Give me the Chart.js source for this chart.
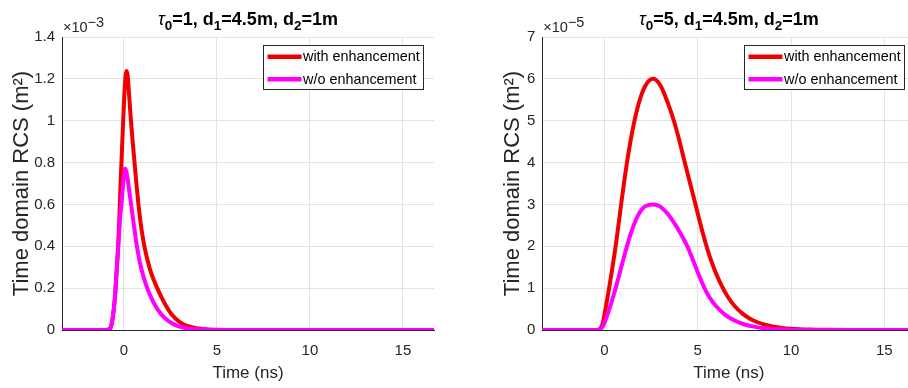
<!DOCTYPE html>
<html>
<head>
<meta charset="utf-8">
<script src="https://cdn.jsdelivr.net/npm/chart.js@4"></script>
<style>
html, body { margin: 0; padding: 0; background: #fff; overflow: hidden; }
#wrap { position: relative; width: 908px; height: 388px; overflow: hidden; }
canvas { position: absolute; top: 0; }
#c1 { left: 0; }
#c2 { left: 454px; }
</style>
</head>
<body>
<div id="wrap">
  <canvas id="c1" width="454" height="388"></canvas>
  <canvas id="c2" width="480" height="388"></canvas>
</div>
<script>
// time axis (ns), shared by both panels
const xMin = -3.33, xMax = 16.67;
const xTicks = [0, 5, 10, 15];
const seriesNames = ["with enhancement", "w/o enhancement"];

// panel 1: tau0 = 1, values in units of 1e-3 m^2
const t1With = [-3.33, -1.0, -0.8, -0.7, -0.6, -0.5, -0.4, -0.3, -0.22, -0.13, -0.04, 0.05, 0.14, 0.2, 0.28, 0.36, 0.46, 0.57, 0.68, 0.78, 0.9, 1.0, 1.11, 1.25, 1.4, 1.6, 1.79, 2.0, 2.2, 2.56, 3.0, 3.43, 4.0, 4.5, 5.0, 6.0, 16.67];
const v1With = [0, 0, 0.003, 0.015, 0.06, 0.14, 0.27, 0.42, 0.6, 0.81, 1.0, 1.17, 1.237, 1.215, 1.12, 1.02, 0.91, 0.8, 0.69, 0.6, 0.51, 0.45, 0.395, 0.34, 0.29, 0.24, 0.2, 0.16, 0.125, 0.075, 0.038, 0.018, 0.007, 0.003, 0.001, 0, 0];
const t1Without = [-3.33, -0.9, -0.8, -0.7, -0.6, -0.5, -0.4, -0.3, -0.2, -0.12, -0.03, 0.06, 0.12, 0.2, 0.3, 0.4, 0.52, 0.68, 0.85, 1.05, 1.25, 1.6, 2.0, 2.4, 2.9, 3.5, 4.5, 5.5, 16.67];
const v1Without = [0, 0, 0.003, 0.015, 0.06, 0.14, 0.27, 0.41, 0.54, 0.62, 0.71, 0.77, 0.76, 0.72, 0.655, 0.59, 0.51, 0.41, 0.325, 0.255, 0.2, 0.13, 0.075, 0.042, 0.018, 0.007, 0.001, 0, 0];
const yTicks1 = [0, 0.2, 0.4, 0.6, 0.8, 1, 1.2, 1.4];

// panel 2: tau0 = 5, values in units of 1e-5 m^2
const t2With = [-3.33, -0.45, -0.3, -0.2, -0.1, 0, 0.12, 0.25, 0.42, 0.6, 0.75, 0.9, 1.05, 1.2, 1.4, 1.6, 1.8, 2.0, 2.2, 2.4, 2.62, 3.0, 3.4, 3.72, 4.0, 4.29, 4.6, 4.88, 5.15, 5.42, 5.7, 6.0, 6.3, 6.6, 7.0, 7.4, 7.8, 8.2, 8.6, 9.0, 9.5, 10, 11, 12, 13, 16.67];
const v2With = [0, 0, 0.01, 0.05, 0.15, 0.36, 0.66, 1.0, 1.47, 2.0, 2.5, 3.02, 3.52, 3.98, 4.52, 4.98, 5.35, 5.64, 5.84, 5.96, 6.0, 5.84, 5.42, 5.0, 4.55, 4.03, 3.49, 3.0, 2.52, 2.08, 1.68, 1.33, 1.04, 0.8, 0.56, 0.39, 0.27, 0.185, 0.125, 0.085, 0.05, 0.03, 0.01, 0.003, 0, 0];
const t2Without = [-3.33, -0.45, -0.3, -0.2, -0.1, 0, 0.15, 0.3, 0.45, 0.6, 0.75, 0.9, 1.05, 1.2, 1.4, 1.6, 1.8, 2.0, 2.2, 2.4, 2.62, 2.85, 3.1, 3.4, 3.6, 3.82, 4.1, 4.44, 4.7, 5.0, 5.33, 5.6, 6.0, 6.4, 6.75, 7.2, 7.6, 8.0, 8.5, 9.0, 10, 11, 12, 16.67];
const v2Without = [0, 0, 0.005, 0.03, 0.08, 0.17, 0.35, 0.55, 0.77, 1.0, 1.25, 1.5, 1.75, 1.99, 2.29, 2.54, 2.74, 2.88, 2.96, 2.99, 3.0, 2.98, 2.91, 2.77, 2.65, 2.5, 2.29, 2.0, 1.72, 1.38, 1.03, 0.8, 0.56, 0.39, 0.28, 0.18, 0.12, 0.08, 0.045, 0.025, 0.008, 0.002, 0, 0];
const yTicks2 = [0, 1, 2, 3, 4, 5, 6, 7];

const fam = '"Liberation Sans", Arial, Helvetica, sans-serif';
const ink = '#262626';

function pts(ts, vs) {
    return ts.map((t, i) => ({ x: t, y: vs[i] }));
}

// titles with subscripts, the x10^n label and the boxed legend
const decor = {
    id: 'decor',
    afterDraw(chart, args, o) {
        const { ctx, chartArea: a } = chart;
        ctx.save();
        ctx.textAlign = 'left';
        ctx.textBaseline = 'alphabetic';

        // title
        const fontOf = s => s.it ? `italic 18px ${fam}` : (s.sub ? `bold 13.5px ${fam}` : `bold 18px ${fam}`);
        let w = 0;
        o.title.forEach(s => { ctx.font = fontOf(s); s.w = ctx.measureText(s.t).width; w += s.w; });
        let x = (a.left + a.right) / 2 - w / 2;
        ctx.fillStyle = '#000';
        o.title.forEach(s => {
            ctx.font = fontOf(s);
            ctx.fillText(s.t, x, 25 + (s.sub ? 5 : 0));
            x += s.w;
        });

        // exponent label
        ctx.fillStyle = ink;
        ctx.font = `14.5px ${fam}`;
        ctx.fillText('\u00d710', a.left + 1, 32);
        const ew = ctx.measureText('\u00d710').width;
        ctx.fillText(o.expo, a.left + 1 + ew, 27);

        // legend
        ctx.font = `14.4px ${fam}`;
        const items = chart.data.datasets;
        const tw = Math.max(...items.map(d => ctx.measureText(d.label).width));
        const bw = Math.round(40 + tw + 3), bh = 44;
        const bx = Math.round(a.right - o.legRight - bw), by = Math.round(a.top + 8);
        ctx.fillStyle = '#fff';
        ctx.fillRect(bx, by, bw, bh);
        ctx.strokeStyle = ink;
        ctx.lineWidth = 1;
        ctx.strokeRect(bx + 0.5, by + 0.5, bw, bh);
        ctx.textBaseline = 'middle';
        items.forEach((d, i) => {
            const ly = by + 11.7 + i * 22.6;
            ctx.strokeStyle = d.borderColor;
            ctx.lineWidth = 4.5;
            ctx.beginPath();
            ctx.moveTo(bx + 4.5, ly);
            ctx.lineTo(bx + 38.5, ly);
            ctx.stroke();
            ctx.fillStyle = '#000';
            ctx.fillText(d.label, bx + 40, ly + 0.5);
        });
        ctx.restore();
    }
};

function makeChart(id, series, yMax, yTicks, cfg) {
    return new Chart(document.getElementById(id), {
        type: 'line',
        data: {
            datasets: [
                { label: seriesNames[0], data: series[0], borderColor: '#f00000', order: 1 },
                { label: seriesNames[1], data: series[1], borderColor: '#ff00ff', order: 0 }
            ]
        },
        options: {
            responsive: false,
            animation: false,
            events: [],
            elements: {
                line: { borderWidth: 4, cubicInterpolationMode: 'monotone', fill: false },
                point: { radius: 0 }
            },
            layout: { padding: { left: cfg.padLeft, right: cfg.padRight, top: 37, bottom: 0 } },
            plugins: {
                legend: { display: false },
                tooltip: { enabled: false },
                title: { display: false },
                decor: { title: cfg.title, expo: cfg.expo, legRight: cfg.legRight }
            },
            scales: {
                x: {
                    type: 'linear',
                    min: xMin,
                    max: xMax,
                    afterBuildTicks: s => { s.ticks = xTicks.map(v => ({ value: v })); },
                    afterFit: s => { s.height = 58; },
                    grid: { color: '#e3e3e3', drawTicks: false },
                    border: { color: ink, width: 1 },
                    ticks: { color: ink, font: { family: fam, size: 15 }, padding: 12, maxRotation: 0 },
                    title: { display: true, text: 'Time (ns)', color: ink, font: { family: fam, size: 17 }, padding: { top: 0, bottom: 4 } }
                },
                y: {
                    type: 'linear',
                    min: 0,
                    max: yMax,
                    afterBuildTicks: s => { s.ticks = yTicks.map(v => ({ value: v })); },
                    afterFit: s => { s.width = cfg.areaLeft - cfg.padLeft; },
                    grid: { color: '#e3e3e3', drawTicks: false },
                    border: { color: ink, width: 1 },
                    ticks: { color: ink, font: { family: fam, size: 15 }, padding: 7, callback: v => String(v) },
                    title: { display: true, text: 'Time domain RCS (m\u00b2)', color: ink, font: { family: fam, size: 22 }, padding: { top: 8.8, bottom: 0 } }
                }
            }
        },
        plugins: [decor]
    });
}

makeChart('c1', [pts(t1With, v1With), pts(t1Without, v1Without)], 1.4, yTicks1, {
    padLeft: 0, padRight: 20, areaLeft: 62, legRight: 10.7, expo: '\u22123',
    title: [{ t: '\u03c4', it: true }, { t: '0', sub: true }, { t: '=1, d' }, { t: '1', sub: true }, { t: '=4.5m, d' }, { t: '2', sub: true }, { t: '=1m' }]
});

makeChart('c2', [pts(t2With, v2With), pts(t2Without, v2Without)], 7, yTicks2, {
    padLeft: 36.8, padRight: 18.5, areaLeft: 88.3, legRight: 11.5, expo: '\u22125',
    title: [{ t: '\u03c4', it: true }, { t: '0', sub: true }, { t: '=5, d' }, { t: '1', sub: true }, { t: '=4.5m, d' }, { t: '2', sub: true }, { t: '=1m' }]
});
</script>
</body>
</html>
